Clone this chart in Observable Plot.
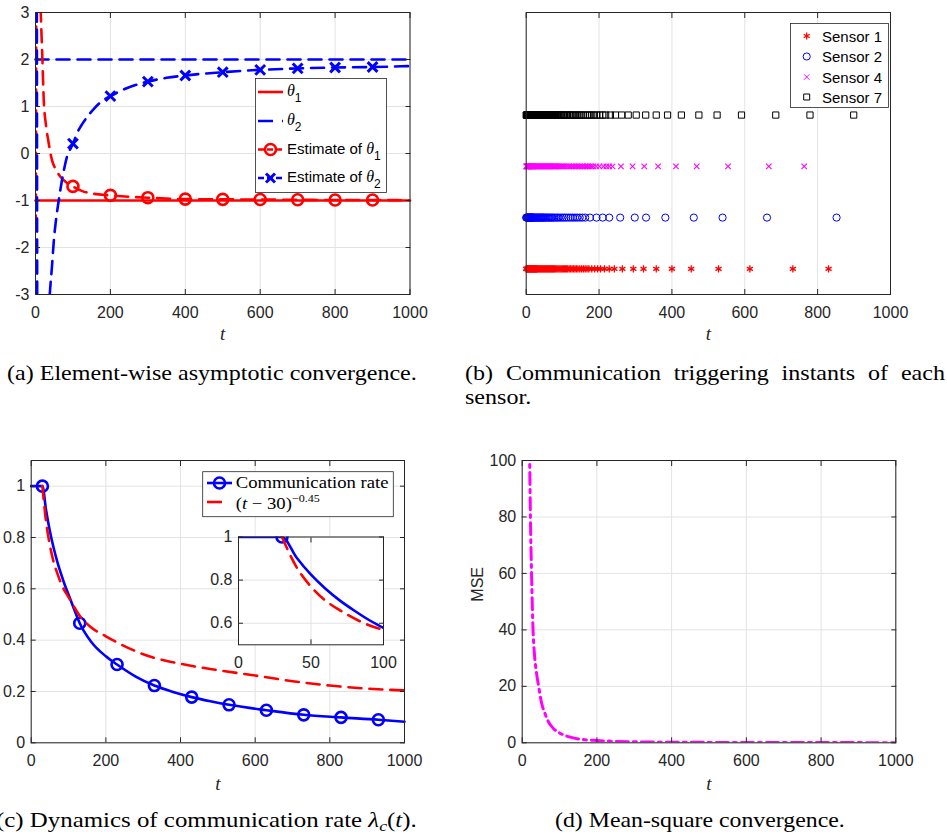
<!DOCTYPE html>
<html><head><meta charset="utf-8">
<script src="https://cdn.jsdelivr.net/npm/d3@7"></script>
<script src="https://cdn.jsdelivr.net/npm/@observablehq/plot@0.6"></script>
<style>
body{margin:0;background:#fff;}
#page{position:relative;width:947px;height:835px;overflow:hidden;background:#fff;}
#page svg{position:absolute;overflow:visible;}
</style></head><body><div id="page"></div>
<script>
// ---------- data ----------
const xTicks = [0, 200, 400, 600, 800, 1000];
const yTicksA = [-3, -2, -1, 0, 1, 2, 3];
const yTicksC = [0, 0.2, 0.4, 0.6, 0.8, 1];
const yTicksD = [0, 20, 40, 60, 80, 100];
const insetXTicks = [0, 50, 100];
const insetYTicks = [0.6, 0.8, 1];

// (a) element-wise convergence
const tSpan = [0, 1000];
const theta1True = -1;
const theta2True = 2;
const tEst1 = [1, 3.5, 10, 14, 18, 22, 28, 34, 44, 55, 67, 80, 100, 125, 150, 200, 250, 300, 400, 500, 600, 700, 800, 900, 1000];
const est1 = [-1.6, 7, 4, 3, 2.1, 1.15, 0.6, 0.28, -0.14, -0.35, -0.5, -0.6, -0.7, -0.8, -0.85, -0.89, -0.92, -0.94, -0.97, -0.975, -0.98, -0.985, -0.99, -0.99, -0.995];
const tEst2 = [3, 6, 20, 38, 44, 49, 55, 62, 70, 76, 84, 92, 100, 112, 125, 140, 156, 175, 200, 250, 300, 350, 400, 500, 600, 700, 800, 900, 1000];
const est2 = [8, -8, -6, -3, -2.4, -1.85, -1.4, -1.0, -0.6, -0.35, -0.07, 0.08, 0.21, 0.45, 0.63, 0.8, 0.95, 1.1, 1.22, 1.41, 1.53, 1.61, 1.66, 1.73, 1.78, 1.81, 1.83, 1.84, 1.86];
const markTimesA = [100, 200, 300, 400, 500, 600, 700, 800, 900];

// (b) triggering instants
const sensorNames = ["Sensor 1", "Sensor 2", "Sensor 4", "Sensor 7"];
const sensorRows = [1, 2, 3, 4];
const sensor1Times = [0,1,2,3,4,5,6,7,8,9,10,11,12,13,14,15,16,17,18,19,20,21,22,23,24,25,26,27,28,29,30,32,34,36,38,40,42,44,46,48,50,52,54,56,58,60,62,64,66,68,70,72,74,76,78,81,84,87,90,93,96,99,102,105,108,111,114,118,122,126,130,134,138,142,147,152,157,162,167,172,180,188,196,204,215,228,242,264,294,322,357,400,453,528,614,732,830];
const sensor2Times = [0,1,2,3,4,5,6,7,8,9,10,11,12,13,14,15,16,17,18,19,20,22,24,26,28,30,32,34,36,38,40,42,44,46,48,50,53,56,59,62,65,68,71,74,78,82,86,90,95,100,105,110,116,122,128,134,140,147,154,162,175,193,210,228,258,298,329,382,460,539,661,852];
const sensor4Times = [0,1,2,3,4,5,6,7,8,9,10,11,12,13,14,15,16,17,18,19,20,22,24,26,28,30,32,34,36,38,40,42,44,46,48,50,52,54,56,58,60,62,64,66,68,70,72,74,76,78,80,83,86,89,92,95,98,101,104,108,113,118,122,127,131,136,140,144,148,153,157,162,166,170,175,179,184,192,201,212,220,228,237,260,292,324,362,411,468,554,666,763];
const sensor7Times = [0,1,2,3,4,5,6,7,8,9,10,11,12,13,14,15,16,17,18,19,20,21,22,23,24,25,26,27,28,29,30,32,34,36,38,40,42,44,46,48,50,52,54,56,58,60,62,64,66,68,70,72,74,76,78,80,82,84,86,89,92,95,98,102,106,110,114,118,122,126,130,135,140,145,150,156,162,168,174,180,187,194,202,210,218,231,245,262,280,302,328,357,388,426,474,524,591,685,779,899];

// (c) communication rate
const tRate = [0, 30, 40, 50, 60, 70, 80, 90, 100, 115, 130, 160, 200, 230, 280, 330, 380, 430, 480, 530, 630, 730, 830, 930, 1000];
const rate = [1, 1, 0.905, 0.825, 0.76, 0.705, 0.658, 0.615, 0.578, 0.52, 0.466, 0.395, 0.337, 0.305, 0.258, 0.223, 0.198, 0.178, 0.162, 0.148, 0.127, 0.109, 0.099, 0.09, 0.082];
const markTimesC = [30, 130, 230, 330, 430, 530, 630, 730, 830, 930];
const tPow = [30, 40, 50, 60, 70, 85, 100, 130, 160, 200, 275, 300, 400, 500, 600, 700, 800, 900, 1000];
const powRef = [1, 0.86, 0.77, 0.705, 0.66, 0.605, 0.568, 0.495, 0.45, 0.415, 0.36, 0.345, 0.308, 0.283, 0.262, 0.24, 0.223, 0.211, 0.204];

// (d) MSE
const tMse = [16, 20, 22, 25, 29, 33, 38, 44, 52, 62, 72, 84, 100, 129, 160, 200, 250, 300, 400, 500, 700, 1000];
const mse = [140, 100, 80, 60, 40, 31, 25, 20, 14, 10, 7, 5, 3.5, 2, 1.2, 0.8, 0.5, 0.35, 0.2, 0.15, 0.1, 0.05];

// ---------- helpers ----------
const page = document.getElementById("page");
function place(el, left, top) { el.style.left = left + "px"; el.style.top = top + "px"; page.appendChild(el); return el; }
const AX = "#262626", GRID = "#e3e3e3";
const RED = "#ff0000", BLUE = "#0000ff", MAG = "#ff00ff";
const num = d => String(d);
const style = {fontFamily: "'Liberation Sans', Arial, sans-serif", fontSize: "16px", color: AX, background: "transparent", overflow: "visible"};
const pts = (ts, vs) => ts.map((t, i) => ({t, v: vs[i]}));

function axes(xt, yt) {
  const m = [
    Plot.axisX({anchor: "bottom", ticks: xt, tickSize: -5, tickPadding: 17, tickFormat: num, label: null}),
    Plot.axisX({anchor: "top", ticks: xt, tickSize: -5, tickFormat: () => "", label: null})
  ];
  if (yt) m.push(
    Plot.axisY({anchor: "left", ticks: yt, tickSize: -5, tickPadding: 11, tickFormat: num, label: null}),
    Plot.axisY({anchor: "right", ticks: yt, tickSize: -5, tickFormat: () => "", label: null})
  );
  return m;
}
const tLabel = (dy) => Plot.text(["t"], {frameAnchor: "bottom", dy, text: d => d, fontFamily: "'Liberation Serif', serif", fontStyle: "italic", fontSize: 19, fill: AX, lineAnchor: "middle"});

// ---------- (a) ----------
const dEst1 = pts(tEst1, est1), dEst2 = pts(tEst2, est2);
const pa = Plot.plot({
  width: 430, height: 340, marginLeft: 35, marginRight: 20.5, marginTop: 12, marginBottom: 46,
  x: {domain: [0, 1000]}, y: {domain: [-3, 3]}, style,
  marks: [
    Plot.gridX({ticks: xTicks, stroke: GRID, strokeOpacity: 1}),
    Plot.gridY({ticks: yTicksA, stroke: GRID, strokeOpacity: 1}),
    Plot.line(tSpan.map(t => ({t, v: theta1True})), {x: "t", y: "v", stroke: RED, strokeWidth: 2.6}),
    Plot.line(tSpan.map(t => ({t, v: theta2True})), {x: "t", y: "v", stroke: BLUE, strokeWidth: 2.6, strokeDasharray: "13,8"}),
    Plot.line(dEst1, {x: "t", y: "v", stroke: RED, strokeWidth: 2.6, strokeDasharray: "13,8", curve: "monotone-x", clip: true}),
    Plot.dot(dEst1.filter(d => markTimesA.includes(d.t)), {x: "t", y: "v", r: 5.5, stroke: RED, strokeWidth: 2.6, fill: "none"}),
    Plot.line(dEst2, {x: "t", y: "v", stroke: BLUE, strokeWidth: 2.6, strokeDasharray: "13,8", curve: "monotone-x", clip: true}),
    Plot.dot(dEst2.filter(d => markTimesA.includes(d.t)), {x: "t", y: "v", r: 4.5, symbol: "times", stroke: BLUE, strokeWidth: 3}),
    Plot.frame({stroke: AX, strokeWidth: 1}),
    ...axes(xTicks, yTicksA),
    tLabel(39)
  ]
});
place(pa, 0, 0);

// ---------- (b) ----------
const sensorSets = [sensor1Times, sensor2Times, sensor4Times, sensor7Times];
const sensorData = sensorSets.map((ts, i) => ts.map(t => ({t, row: sensorRows[i], name: sensorNames[i]})));
const pb = Plot.plot({
  width: 430, height: 340, marginLeft: 35.7, marginRight: 30, marginTop: 12, marginBottom: 46,
  x: {domain: [0, 1000]}, y: {domain: [0.5, 6], axis: null}, style,
  marks: [
    Plot.gridX({ticks: xTicks, stroke: GRID, strokeOpacity: 1}),
    Plot.dot(sensorData[0], {x: "t", y: "row", symbol: "asterisk", r: 3.3, stroke: RED, strokeWidth: 1.3}),
    Plot.dot(sensorData[1], {x: "t", y: "row", symbol: "circle", r: 3.6, stroke: BLUE, fill: "none", strokeWidth: 1}),
    Plot.dot(sensorData[2], {x: "t", y: "row", symbol: "times", r: 2.6, stroke: MAG, strokeWidth: 1.1}),
    Plot.dot(sensorData[3], {x: "t", y: "row", symbol: "square", r: 3.5, stroke: "#000", fill: "none", strokeWidth: 1}),
    Plot.frame({stroke: AX, strokeWidth: 1}),
    ...axes(xTicks, null),
    tLabel(39)
  ]
});
place(pb, 490, 0);

// ---------- (c) ----------
const dRate = pts(tRate, rate), dPow = pts(tPow, powRef);
const pc = Plot.plot({
  width: 420, height: 360, marginLeft: 30.7, marginRight: 16, marginTop: 20, marginBottom: 57.7,
  x: {domain: [0, 1000]}, y: {domain: [0, 1.1]}, style,
  marks: [
    Plot.gridX({ticks: xTicks, stroke: GRID, strokeOpacity: 1}),
    Plot.gridY({ticks: yTicksC, stroke: GRID, strokeOpacity: 1}),
    Plot.line(dRate, {x: "t", y: "v", stroke: BLUE, strokeWidth: 2.6, curve: "monotone-x"}),
    Plot.dot(dRate.filter(d => markTimesC.includes(d.t)), {x: "t", y: "v", r: 5.5, stroke: BLUE, strokeWidth: 2.6, fill: "none"}),
    Plot.line(dPow, {x: "t", y: "v", stroke: RED, strokeWidth: 2.6, strokeDasharray: "13,8", curve: "monotone-x"}),
    Plot.frame({stroke: AX, strokeWidth: 1}),
    ...axes(xTicks, yTicksC),
    tLabel(41)
  ]
});
place(pc, 0, 440);

// inset
const pi = Plot.plot({
  width: 200, height: 168.3, marginLeft: 40, marginRight: 15, marginTop: 20.5, marginBottom: 40,
  x: {domain: [0, 100]}, y: {domain: [0.5, 1]}, style,
  marks: [
    Plot.frame({fill: "#fff", stroke: null}),
    Plot.gridX({ticks: insetXTicks, stroke: GRID, strokeOpacity: 1}),
    Plot.gridY({ticks: insetYTicks, stroke: GRID, strokeOpacity: 1}),
    Plot.line(dRate, {x: "t", y: "v", stroke: BLUE, strokeWidth: 2.6, curve: "monotone-x", clip: true}),
    Plot.dot(dRate.filter(d => markTimesC.includes(d.t)), {x: "t", y: "v", r: 5.5, stroke: BLUE, strokeWidth: 2.6, fill: "none", clip: true}),
    Plot.line(dPow, {x: "t", y: "v", stroke: RED, strokeWidth: 2.6, strokeDasharray: "13,8", curve: "monotone-x", clip: true}),
    Plot.frame({stroke: AX, strokeWidth: 1}),
    ...axes(insetXTicks, insetYTicks)
  ]
});
place(pi, 198, 516);

// ---------- (d) ----------
const pd = Plot.plot({
  width: 430, height: 360, marginLeft: 31.7, marginRight: 24.7, marginTop: 20, marginBottom: 57.7,
  x: {domain: [0, 1000]}, y: {domain: [0, 100]}, style,
  marks: [
    Plot.gridX({ticks: xTicks, stroke: GRID, strokeOpacity: 1}),
    Plot.gridY({ticks: yTicksD, stroke: GRID, strokeOpacity: 1}),
    Plot.line(pts(tMse, mse), {x: "t", y: "v", stroke: MAG, strokeWidth: 3, strokeDasharray: "12,5,3,5", curve: "monotone-x", clip: true}),
    Plot.frame({stroke: AX, strokeWidth: 1}),
    ...axes(xTicks, yTicksD),
    tLabel(41),
    Plot.text(["MSE"], {frameAnchor: "left", dx: -44, rotate: -90, text: d => d, fontSize: 16, fill: AX})
  ]
});
place(pd, 490, 440);

// ---------- overlay: legends and captions ----------
const ov = d3.create("svg").attr("width", 947).attr("height", 835).style("left", "0px").style("top", "0px");
page.appendChild(ov.node());
const SANS = "'Liberation Sans', Arial, sans-serif", SERIF = "'Liberation Serif', 'Times New Roman', serif";

// legend (a)
{
  const g = ov.append("g");
  g.append("rect").attr("x", 255.5).attr("y", 78.5).attr("width", 131).attr("height", 114).attr("fill", "#fff").attr("stroke", AX).attr("stroke-width", 0.8);
  const rows = [92, 121, 149.5, 178];
  const x1 = 258, x2 = 283, xc = 270.5, tx = 287;
  g.append("line").attr("x1", x1).attr("x2", x2).attr("y1", rows[0]).attr("y2", rows[0]).attr("stroke", RED).attr("stroke-width", 2.6);
  g.append("line").attr("x1", x1).attr("x2", x2).attr("y1", rows[1]).attr("y2", rows[1]).attr("stroke", BLUE).attr("stroke-width", 2.6).attr("stroke-dasharray", "15,9");
  g.append("line").attr("x1", x1).attr("x2", x2).attr("y1", rows[2]).attr("y2", rows[2]).attr("stroke", RED).attr("stroke-width", 2.6).attr("stroke-dasharray", "6,3");
  g.append("circle").attr("cx", xc).attr("cy", rows[2]).attr("r", 5.5).attr("fill", "none").attr("stroke", RED).attr("stroke-width", 2.6);
  g.append("line").attr("x1", x1).attr("x2", x2).attr("y1", rows[3]).attr("y2", rows[3]).attr("stroke", BLUE).attr("stroke-width", 2.6).attr("stroke-dasharray", "6,3");
  g.append("path").attr("d", `M${xc-4.5},${rows[3]-4.5}L${xc+4.5},${rows[3]+4.5}M${xc-4.5},${rows[3]+4.5}L${xc+4.5},${rows[3]-4.5}`).attr("stroke", BLUE).attr("stroke-width", 3);
  const labels = [["", "1"], ["", "2"], ["Estimate of ", "1"], ["Estimate of ", "2"]];
  labels.forEach(([pre, sub], i) => {
    const t = g.append("text").attr("x", tx).attr("y", rows[i] + 4).attr("font-family", SANS).attr("font-size", 15).attr("fill", "#000");
    if (pre) t.append("tspan").text(pre);
    t.append("tspan").attr("font-style", "italic").attr("font-family", SERIF).attr("font-size", 16).text("θ");
    t.append("tspan").attr("dy", 6).attr("font-size", 12).text(sub);
  });
}

// legend (b)
{
  const g = ov.append("g");
  g.append("rect").attr("x", 790.5).attr("y", 23.5).attr("width", 98).attr("height", 84).attr("fill", "#fff").attr("stroke", AX).attr("stroke-width", 0.8);
  const rows = [36, 56.5, 77, 97], mx = 806.7;
  const sym = [d3.symbolAsterisk, d3.symbolCircle, d3.symbolTimes, d3.symbolSquare];
  const col = [RED, BLUE, MAG, "#000"];
  const size = [34, 40, 21, 36];
  rows.forEach((y, i) => {
    g.append("path").attr("transform", `translate(${mx},${y})`).attr("d", d3.symbol(sym[i], size[i])()).attr("fill", "none").attr("stroke", col[i]).attr("stroke-width", i === 0 ? 1.3 : 1);
    g.append("text").attr("x", 822).attr("y", y + 5.5).attr("font-family", SANS).attr("font-size", 15).attr("fill", "#000").text(sensorNames[i]);
  });
}

// legend (c)
{
  const g = ov.append("g");
  g.append("rect").attr("x", 202.7).attr("y", 471.7).attr("width", 190.6).attr("height", 45).attr("fill", "#fff").attr("stroke", AX).attr("stroke-width", 0.8);
  g.append("line").attr("x1", 207).attr("x2", 232).attr("y1", 483).attr("y2", 483).attr("stroke", BLUE).attr("stroke-width", 2.6);
  g.append("circle").attr("cx", 219.5).attr("cy", 483).attr("r", 5.5).attr("fill", "none").attr("stroke", BLUE).attr("stroke-width", 2.6);
  const c1 = g.append("g");
  const t1 = c1.append("text").attr("x", 0).attr("y", 0).attr("font-family", SERIF).attr("font-size", 17).attr("fill", "#000").text("Communication rate");
  const w1 = t1.node().getComputedTextLength();
  c1.attr("transform", `translate(235.7,488) scale(${153 / w1},1)`);
  g.append("line").attr("x1", 207).attr("x2", 222).attr("y1", 502).attr("y2", 502).attr("stroke", RED).attr("stroke-width", 2.6);
  const c2 = g.append("g");
  const t = c2.append("text").attr("x", 0).attr("y", 0).attr("font-family", SERIF).attr("font-size", 17).attr("fill", "#000");
  t.append("tspan").text("(");
  t.append("tspan").attr("font-style", "italic").text("t");
  t.append("tspan").text(" − 30)");
  t.append("tspan").attr("dy", -7).attr("font-size", 11).text("−0.45");
  c2.attr("transform", `translate(235.7,509) scale(${153 / w1},1)`);
}

// captions (serif, horizontally fitted to the reference widths)
const CAP_FS = 21;
function capText(g, parts) {
  const t = g.append("text").attr("x", 0).attr("y", 0).attr("font-family", SERIF).attr("font-size", CAP_FS).attr("fill", "#000");
  parts.forEach(p => {
    const s = t.append("tspan").text(p.s);
    if (p.it) s.attr("font-style", "italic");
    if (p.dy) s.attr("dy", p.dy);
    if (p.fs) s.attr("font-size", p.fs);
  });
  return t;
}
function caption(parts, x, y, target) {
  const g = ov.append("g");
  const t = capText(g, parts);
  const w = t.node().getComputedTextLength();
  g.attr("transform", `translate(${x},${y}) scale(${target / w},1)`);
  return target / w;
}
const sCap = caption([{s: "(a) Element-wise asymptotic convergence."}], 7, 380, 410);
{
  const words = ["(b)", "Communication", "triggering", "instants", "of", "each"];
  const g = ov.append("g").attr("transform", `translate(465,380) scale(${sCap},1)`);
  const nodes = words.map(w => capText(g, [{s: w}]));
  const widths = nodes.map(n => n.node().getComputedTextLength());
  const gap = (480 / sCap - d3.sum(widths)) / (words.length - 1);
  let x = 0;
  nodes.forEach((n, i) => { n.attr("x", x); x += widths[i] + gap; });
  const g2 = ov.append("g").attr("transform", `translate(465,404) scale(${sCap},1)`);
  capText(g2, [{s: "sensor."}]);
}
caption([{s: "(c) Dynamics of communication rate "}, {s: "λ", it: true}, {s: "c", it: true, fs: 15, dy: 4}, {s: "(", dy: -4}, {s: "t", it: true}, {s: ")."}], -4, 827, 421);
caption([{s: "(d) Mean-square convergence."}], 555, 827, 290);
</script>
</body></html>
